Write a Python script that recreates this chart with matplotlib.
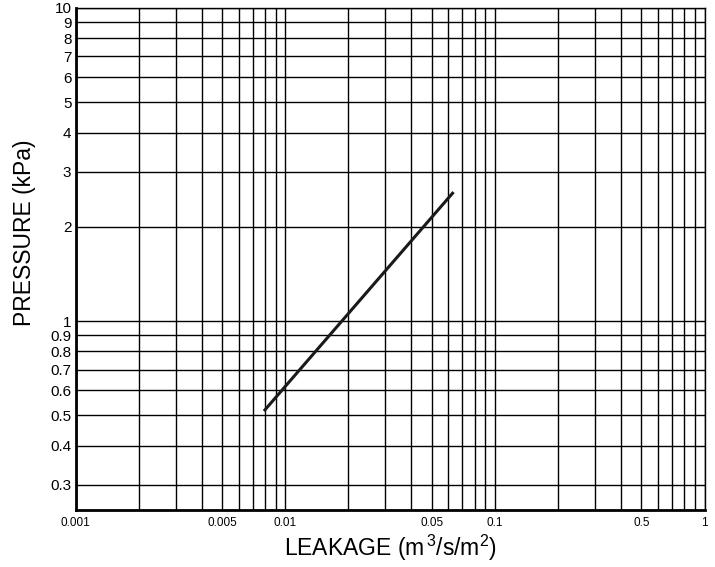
import matplotlib
matplotlib.use('Agg')
import matplotlib.pyplot as plt
from matplotlib.ticker import FixedLocator, FixedFormatter, NullFormatter

plt.rcParams['font.family'] = ['Liberation Sans', 'DejaVu Sans']
plt.rcParams['mathtext.fontset'] = 'custom'
plt.rcParams['mathtext.rm'] = 'Liberation Sans'
plt.rcParams['mathtext.it'] = 'Liberation Sans'

# dados da curva (leitura do grafico)
leakage = [0.008, 0.0628]
pressure = [0.52, 2.56]

x_ticks = [0.001, 0.005, 0.01, 0.05, 0.1, 0.5, 1]
x_labels = ['0.001', '0.005', '0.01', '0.05', '0.1', '0.5', '1']
y_ticks = [0.3, 0.4, 0.5, 0.6, 0.7, 0.8, 0.9, 1, 2, 3, 4, 5, 6, 7, 8, 9, 10]
y_labels = ['0.3', '0.4', '0.5', '0.6', '0.7', '0.8', '0.9', '1', '2', '3', '4', '5', '6', '7', '8', '9', '10']

fig = plt.figure(figsize=(7.15, 5.67), dpi=100)
ax = fig.add_axes([0.1057, 0.1005, 0.8797, 0.8854])

ax.plot(leakage, pressure, color='#1a1a1a', linewidth=2.2, zorder=3)

ax.set_xscale('log')
ax.set_yscale('log')
ax.set_xlim(0.001, 1)
ax.set_ylim(0.249, 10)

# linhas verticais em todos os 1..9 de cada decada
vx = [m * 10 ** e for e in (-3, -2, -1) for m in range(1, 10)] + [1]
ax.xaxis.set_major_locator(FixedLocator(x_ticks))
ax.xaxis.set_major_formatter(FixedFormatter(x_labels))
ax.xaxis.set_minor_locator(FixedLocator(vx))
ax.xaxis.set_minor_formatter(NullFormatter())
ax.yaxis.set_major_locator(FixedLocator(y_ticks))
ax.yaxis.set_major_formatter(FixedFormatter(y_labels))
ax.yaxis.set_minor_locator(FixedLocator([]))

ax.grid(True, which='both', axis='x', color='black', linewidth=1.0)
ax.grid(True, which='major', axis='y', color='black', linewidth=1.0)
ax.set_axisbelow(True)

ax.tick_params(axis='both', which='both', length=0)
ax.tick_params(axis='x', labelsize=8.5, pad=5)
ax.tick_params(axis='y', labelsize=11, pad=3)

for s in ['left', 'bottom']:
    ax.spines[s].set_linewidth(2.0)
for s in ['top', 'right']:
    ax.spines[s].set_linewidth(1.0)

ax.set_xlabel('LEAKAGE (m$^{\\,3}$/s/m$^2$)', fontsize=16.5)
ax.xaxis.set_label_coords(0.5, -0.045)
ax.set_ylabel('PRESSURE (kPa)', fontsize=16.5)
ax.yaxis.set_label_coords(-0.063, 0.552)

fig.savefig('out.png', dpi=100)
